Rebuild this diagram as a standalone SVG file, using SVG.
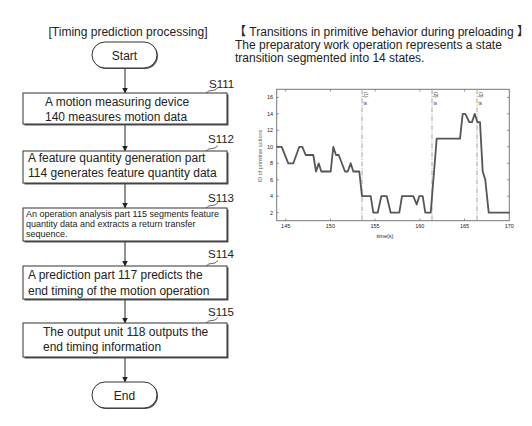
<svg xmlns="http://www.w3.org/2000/svg" width="532" height="426" viewBox="0 0 532 426">
<style>
text{font-family:"Liberation Sans",Arial,"Noto Sans CJK JP",sans-serif;fill:#222}
.t{font-size:12px}
.small{font-size:9px}
.lab{font-size:11.5px}
.box{fill:#fff;stroke:#333;stroke-width:1}
.shadow{fill:#555}
.term{fill:#fff;stroke:#333;stroke-width:1}
.conn{stroke:#222;stroke-width:1;fill:none}
.lead{stroke:#444;stroke-width:0.8;fill:none}
.frame{fill:#fff;stroke:#777;stroke-width:1}
.tick{stroke:#777;stroke-width:0.8}
.tl{font-size:5.5px;fill:#666}
.vl{stroke:#999;stroke-width:0.9;stroke-dasharray:5 1.5 1 1.5}
.data{fill:none;stroke:#555;stroke-width:1.8;stroke-linejoin:round}
</style>
<defs>
<marker id="arr" markerWidth="6" markerHeight="6" refX="5" refY="3" orient="auto" markerUnits="userSpaceOnUse">
<path d="M0,0 L6,3 L0,6 Z" fill="#222"/>
</marker>
</defs>

<text class="t" x="128" y="36" text-anchor="middle">[Timing prediction processing]</text>

<g id="connectors">
<line class="conn" x1="125" y1="68" x2="125" y2="92.5" marker-end="url(#arr)"/>
<line class="conn" x1="125" y1="125" x2="125" y2="150.5" marker-end="url(#arr)"/>
<line class="conn" x1="125" y1="184" x2="125" y2="207.5" marker-end="url(#arr)"/>
<line class="conn" x1="125" y1="242" x2="125" y2="265.5" marker-end="url(#arr)"/>
<line class="conn" x1="125" y1="300" x2="125" y2="322.5" marker-end="url(#arr)"/>
<line class="conn" x1="125" y1="358" x2="125" y2="381.5" marker-end="url(#arr)"/>
</g>

<g id="start">
<rect class="shadow" x="93" y="43" width="65" height="26" rx="13"/>
<rect class="term" x="92" y="42" width="65" height="26" rx="13"/>
<text class="t" x="124.5" y="59.5" text-anchor="middle">Start</text>
</g>

<g id="s111">
<rect class="shadow" x="24.5" y="94.5" width="204" height="31"/>
<rect class="box" x="23" y="93" width="204" height="31"/>
<text class="t" x="45" y="106">A motion measuring device</text>
<text class="t" x="45" y="121">140 measures motion data</text>
<path class="lead" d="M206,93 q3,-3 6,-2.5 t6,-3"/>
<text class="lab" x="209" y="88">S111</text>
</g>

<g id="s112">
<rect class="shadow" x="24.5" y="152.5" width="204" height="32"/>
<rect class="box" x="23" y="151" width="204" height="32"/>
<text class="t" x="28" y="162">A feature quantity generation part</text>
<text class="t" x="28" y="177">114 generates feature quantity data</text>
<path class="lead" d="M206,151 q3,-3 6,-2.5 t6,-3"/>
<text class="lab" x="208" y="143">S112</text>
</g>

<g id="s113">
<rect class="shadow" x="24.5" y="209.5" width="204" height="33"/>
<rect class="box" x="23" y="208" width="204" height="33"/>
<text class="small" x="26" y="216.5">An operation analysis part 115 segments feature</text>
<text class="small" x="26" y="226.5">quantity data and extracts a return transfer</text>
<text class="small" x="26" y="236.5">sequence.</text>
<path class="lead" d="M206,208 q3,-3 6,-2.5 t6,-3"/>
<text class="lab" x="208" y="202">S113</text>
</g>

<g id="s114">
<rect class="shadow" x="24.5" y="267.5" width="204" height="33"/>
<rect class="box" x="23" y="266" width="204" height="33"/>
<text class="t" x="28" y="278.5">A prediction part 117 predicts the</text>
<text class="t" x="28" y="294.5">end timing of the motion operation</text>
<path class="lead" d="M206,266 q3,-3 6,-2.5 t6,-3"/>
<text class="lab" x="208" y="258">S114</text>
</g>

<g id="s115">
<rect class="shadow" x="24.5" y="324.5" width="204" height="34"/>
<rect class="box" x="23" y="323" width="204" height="34"/>
<text class="t" x="43" y="335.5">The output unit 118 outputs the</text>
<text class="t" x="43" y="350.5">end timing information</text>
<path class="lead" d="M206,323 q3,-3 6,-2.5 t6,-3"/>
<text class="lab" x="208" y="316">S115</text>
</g>

<g id="end">
<rect class="shadow" x="93" y="383" width="65" height="26" rx="13"/>
<rect class="term" x="92" y="382" width="65" height="26" rx="13"/>
<text class="t" x="124.5" y="399.5" text-anchor="middle">End</text>
</g>

<g id="caption">
<text class="t" x="234" y="36">【 Transitions in primitive behavior during preloading 】</text>
<text class="t" x="235" y="49">The preparatory work operation represents a state</text>
<text class="t" x="235" y="61.5">transition segmented into 14 states.</text>
</g>

<g id="chart">
<rect class="frame" x="276.7" y="89.3" width="232.6" height="131.4"/>
<g class="tick">
<line x1="285.7" y1="220.7" x2="285.7" y2="218.5"/><line x1="285.7" y1="89.3" x2="285.7" y2="91.5"/>
<line x1="330.4" y1="220.7" x2="330.4" y2="218.5"/><line x1="330.4" y1="89.3" x2="330.4" y2="91.5"/>
<line x1="375.1" y1="220.7" x2="375.1" y2="218.5"/><line x1="375.1" y1="89.3" x2="375.1" y2="91.5"/>
<line x1="419.8" y1="220.7" x2="419.8" y2="218.5"/><line x1="419.8" y1="89.3" x2="419.8" y2="91.5"/>
<line x1="464.5" y1="220.7" x2="464.5" y2="218.5"/><line x1="464.5" y1="89.3" x2="464.5" y2="91.5"/>
<line x1="276.7" y1="97.4" x2="278.9" y2="97.4"/><line x1="509.3" y1="97.4" x2="507.1" y2="97.4"/>
<line x1="276.7" y1="113.8" x2="278.9" y2="113.8"/><line x1="509.3" y1="113.8" x2="507.1" y2="113.8"/>
<line x1="276.7" y1="130.3" x2="278.9" y2="130.3"/><line x1="509.3" y1="130.3" x2="507.1" y2="130.3"/>
<line x1="276.7" y1="146.8" x2="278.9" y2="146.8"/><line x1="509.3" y1="146.8" x2="507.1" y2="146.8"/>
<line x1="276.7" y1="163.3" x2="278.9" y2="163.3"/><line x1="509.3" y1="163.3" x2="507.1" y2="163.3"/>
<line x1="276.7" y1="179.8" x2="278.9" y2="179.8"/><line x1="509.3" y1="179.8" x2="507.1" y2="179.8"/>
<line x1="276.7" y1="196.2" x2="278.9" y2="196.2"/><line x1="509.3" y1="196.2" x2="507.1" y2="196.2"/>
<line x1="276.7" y1="212.7" x2="278.9" y2="212.7"/><line x1="509.3" y1="212.7" x2="507.1" y2="212.7"/>
</g>
<g class="tl" text-anchor="middle">
<text x="285.7" y="228">145</text>
<text x="330.4" y="228">150</text>
<text x="375.1" y="228">155</text>
<text x="419.8" y="228">160</text>
<text x="464.5" y="228">165</text>
<text x="509.3" y="228">170</text>
<text x="385" y="238">time(s)</text>
</g>
<g class="tl" text-anchor="end">
<text x="273" y="99.4">16</text>
<text x="273" y="115.8">14</text>
<text x="273" y="132.3">12</text>
<text x="273" y="148.8">10</text>
<text x="273" y="165.3">8</text>
<text x="273" y="181.8">6</text>
<text x="273" y="198.2">4</text>
<text x="273" y="214.7">2</text>
</g>
<text class="tl" transform="translate(262,156) rotate(-90)" text-anchor="middle">ID of primitive actions</text>
<line class="vl" x1="362" y1="89.3" x2="362" y2="220.7"/>
<line class="vl" x1="432" y1="89.3" x2="432" y2="220.7"/>
<line class="vl" x1="477" y1="89.3" x2="477" y2="220.7"/>
<g class="tl" style="font-size:4.5px">
<text transform="translate(364,92) rotate(90)">(1)</text>
<text x="363.5" y="104.5">ts</text>
<text transform="translate(434,92) rotate(90)">(2)</text>
<text x="433.5" y="104.5">ts</text>
<text transform="translate(479,92) rotate(90)">(3)</text>
<text x="478.5" y="104.5">ts</text>
</g>
<polyline class="data" points="276.7,146.8 281.7,146.8 288.3,163.3 293.3,163.3 299.3,146.8 302.3,146.8 305.7,155 313.3,155 316,171.5 318.7,163.3 321.3,171.5 330.7,171.5 333.3,146.8 336,155 338.7,155 345,171.5 347.7,171.5 350.7,163.3 353.3,171.5 359.3,171.5 362,196.2 370.7,196.2 373.3,212.7 377.7,212.7 381.3,196.2 386.7,196.2 390.7,212.7 399.3,212.7 402,196.2 413.3,196.2 416.7,204.5 419.3,196.2 422.7,196.2 425.3,212.7 430.7,212.7 436.7,138.6 460,138.6 462.7,113.8 465.3,113.8 469.3,122.1 472,122.1 474.7,113.8 477.3,122.1 480,122.1 482.7,171.5 485.3,179.8 488.7,212.7 509.3,212.7"/>
</g>
</svg>
